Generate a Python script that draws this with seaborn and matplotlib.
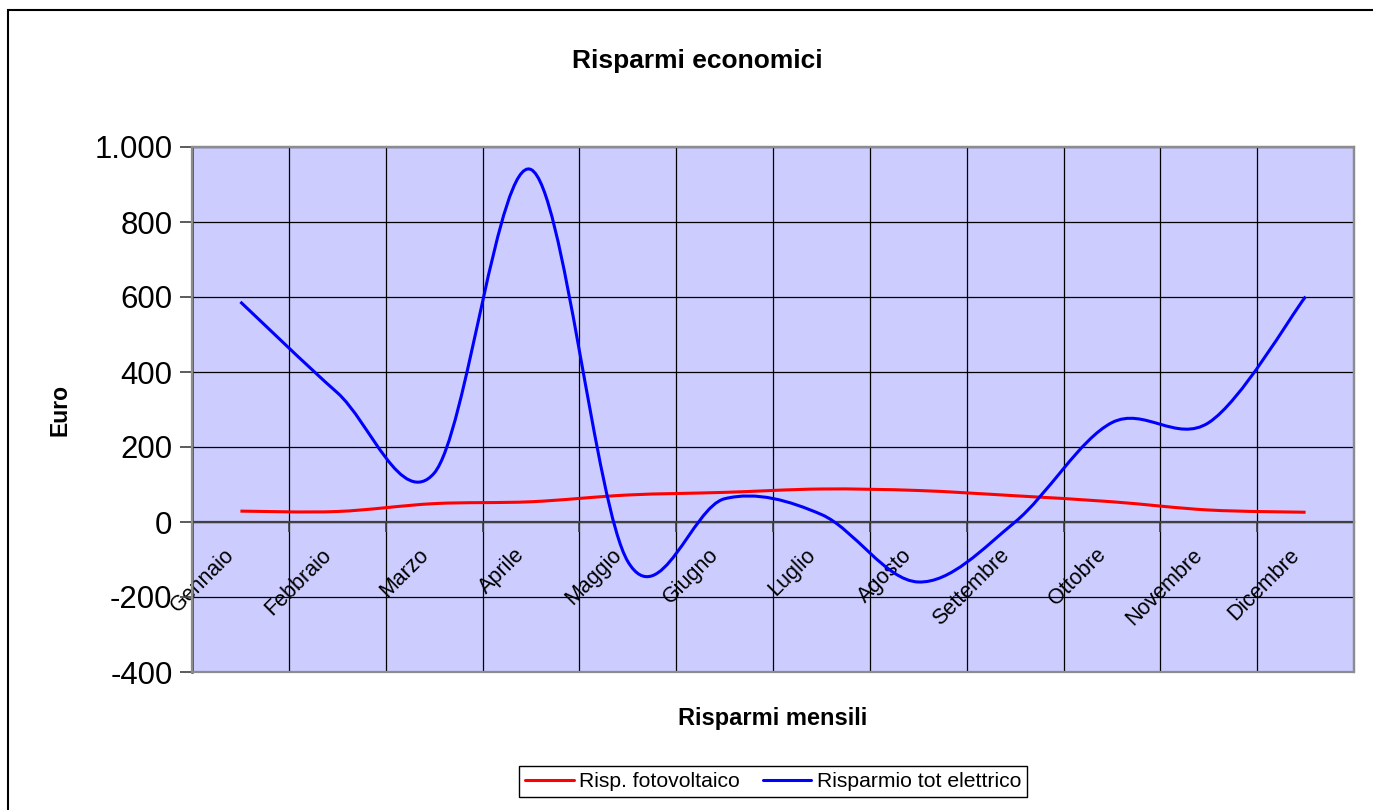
import numpy as np
import pandas as pd
import seaborn as sns
import matplotlib.pyplot as plt
from matplotlib.path import Path
from matplotlib.patches import PathPatch, Rectangle
from matplotlib.lines import Line2D
from matplotlib.transforms import ScaledTranslation

# Data (euro per month)
mesi = ['Gennaio', 'Febbraio', 'Marzo', 'Aprile', 'Maggio', 'Giugno',
        'Luglio', 'Agosto', 'Settembre', 'Ottobre', 'Novembre', 'Dicembre']
risp_fotovoltaico = [29, 28, 49, 54, 72, 79, 88, 84, 70, 54, 32, 26]
risp_tot_elettrico = [587, 345, 130, 940, -105, 62, 20, -160, 0, 265, 265, 601]
y_ticks = [-400, -200, 0, 200, 400, 600, 800, 1000]

df = pd.DataFrame({'mese': mesi, 'pos': np.arange(len(mesi)),
                   'Risp. fotovoltaico': risp_fotovoltaico,
                   'Risparmio tot elettrico': risp_tot_elettrico})

sns.set_style("white")
plt.rcParams['font.family'] = ['Liberation Sans', 'DejaVu Sans']
plt.rcParams['text.color'] = 'black'
plt.rcParams['xtick.labelcolor'] = 'black'
plt.rcParams['ytick.labelcolor'] = 'black'

W, H = 1373, 810
fig = plt.figure(figsize=(W / 100, H / 100), dpi=100)
ax = fig.add_axes([192 / W, 1 - 672 / H, 1162 / W, 525 / H])
ax.set_facecolor('#CCCCFF')


def smooth_path(x, y):
    # Excel-like smoothed line: Catmull-Rom as cubic Bezier segments
    pts = np.column_stack([x, y]).astype(float)
    n = len(pts)
    verts = [pts[0]]
    codes = [Path.MOVETO]
    for i in range(n - 1):
        p0 = pts[max(i - 1, 0)]
        p1 = pts[i]
        p2 = pts[i + 1]
        p3 = pts[min(i + 2, n - 1)]
        verts += [p1 + (p2 - p0) / 6, p2 - (p3 - p1) / 6, p2]
        codes += [Path.CURVE4] * 3
    return Path(verts, codes)


series = [('Risp. fotovoltaico', '#FF0000'), ('Risparmio tot elettrico', '#0000FF')]
handles = []
for name, color in series:
    patch = PathPatch(smooth_path(df['pos'], df[name]), facecolor='none',
                      edgecolor=color, lw=2.2, zorder=3, capstyle='butt')
    ax.add_patch(patch)
    handles.append(Line2D([], [], color=color, lw=2.2, label=name))

ax.set_xlim(-0.5, len(mesi) - 0.5)
ax.set_ylim(-400, 1000)

# y axis
ax.set_yticks(y_ticks, labels=[f"{v:,}".replace(',', '.') for v in y_ticks])
ax.tick_params(axis='y', left=True, direction='out', length=9, width=1.2,
               color='#404040', labelsize=22.4, pad=5)

# category axis crosses at zero
ax.set_xticks(np.arange(-0.5, len(mesi)), labels=[])
ax.tick_params(axis='x', which='major', bottom=True, direction='out', length=7,
               width=1.2, color='#404040')
ax.tick_params(axis='x', which='minor', bottom=True, length=0, pad=21.5,
               labelsize=15.5, labelrotation=45)
ax.set_xticks(np.arange(len(mesi)), labels=mesi, minor=True)

ax.grid(True, which='major', color='black', lw=0.9)
ax.set_axisbelow(True)

ax.spines['bottom'].set_position(('data', 0))
ax.spines['bottom'].set_color('#404040')
ax.spines['bottom'].set_linewidth(1.6)
ax.spines['left'].set_color('#404040')
ax.spines['left'].set_linewidth(1.8)
for s in ['top', 'right']:
    ax.spines[s].set_color('#8C8C8C')
    ax.spines[s].set_linewidth(1.6)
ax.add_patch(Rectangle((0, 0), 1, 1, transform=ax.transAxes, fill=False,
                       ec='#8C8C8C', lw=1.6, clip_on=False, zorder=4))

# texts
fig.text(697 / W, 1 - 61 / H, 'Risparmi economici', ha='center', va='center',
         fontsize=19, fontweight='bold')
fig.text(773 / W, 1 - 718 / H, 'Risparmi mensili', ha='center', va='center',
         fontsize=17, fontweight='bold')
fig.text(60 / W, 1 - 410 / H, 'Euro', ha='center', va='center', rotation=90,
         fontsize=16.5, fontweight='bold')

leg = fig.legend(handles=handles, loc='center', ncol=2,
                 bbox_to_anchor=(773 / W, 1 - 781.5 / H), fontsize=15.2,
                 frameon=True, fancybox=False, edgecolor='black', framealpha=1,
                 handlelength=2.3, handletextpad=0.25, columnspacing=1.1,
                 borderpad=0.3, borderaxespad=0)
leg.get_frame().set_linewidth(1.0)

# outer chart border (continues past the right and bottom edges)
fig.add_artist(Rectangle((8 / W, -0.2), 2, 1.2 - 10 / H, transform=fig.transFigure,
                         fill=False, ec='black', lw=1.5))

# rotated month labels, anchored at their end just below the zero line
fig.canvas.draw()
offset = ScaledTranslation(-0.09, 0, fig.dpi_scale_trans)
for lbl in ax.get_xticklabels(minor=True):
    lbl.set_rotation(45)
    lbl.set_ha('right')
    lbl.set_va('center')
    lbl.set_rotation_mode('anchor')
    lbl.set_transform(lbl.get_transform() + offset)

fig.savefig('out.png', dpi=100)
